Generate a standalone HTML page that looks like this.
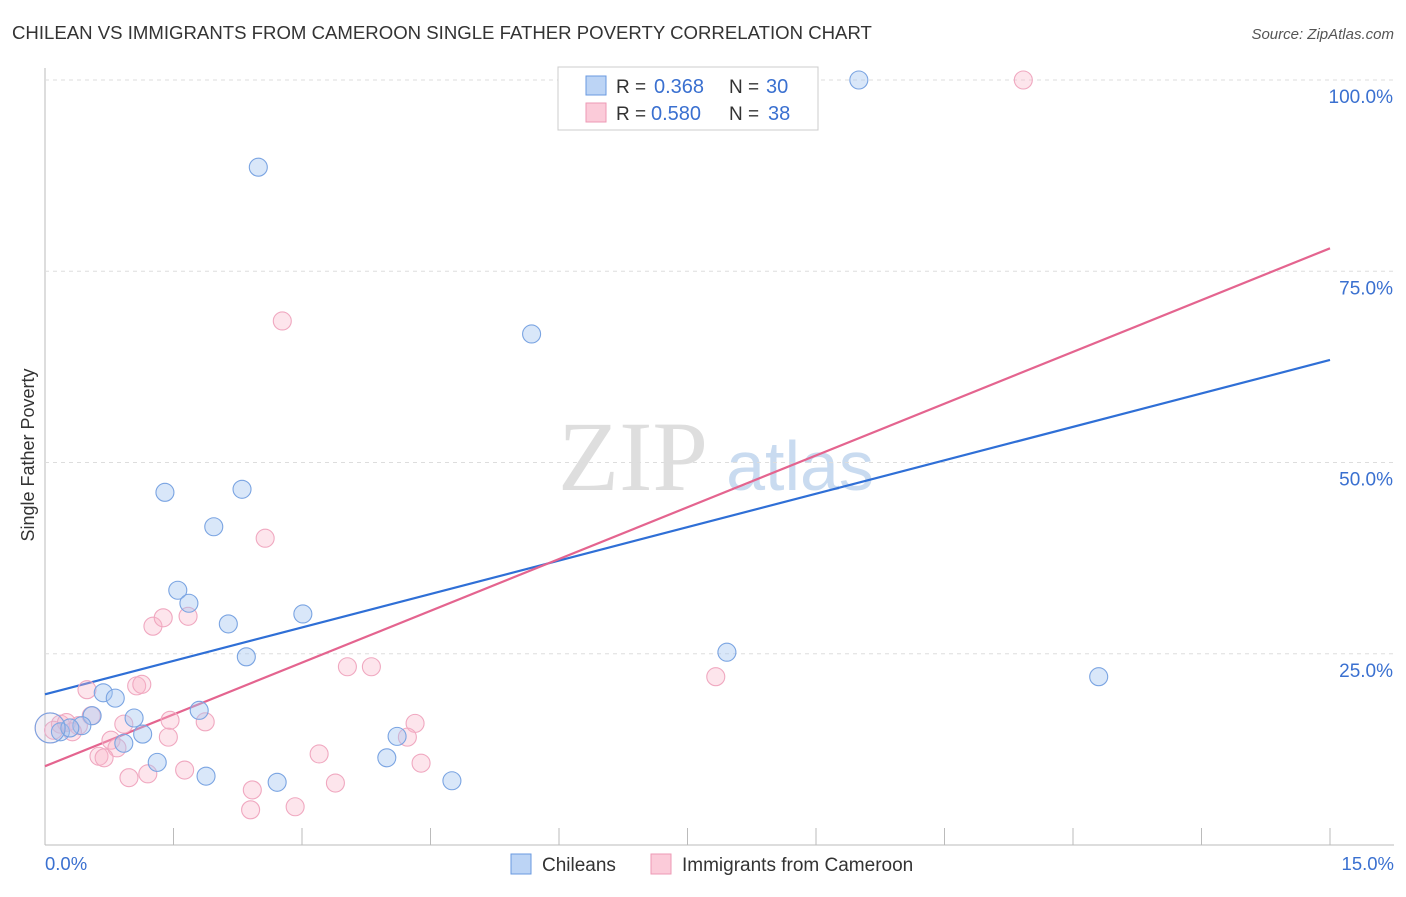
<!DOCTYPE html>
<html><head><meta charset="utf-8"><style>
body{margin:0;background:#fff;font-family:"Liberation Sans",sans-serif}
</style></head><body>
<svg id="chart" width="1406" height="892" font-family="Liberation Sans, sans-serif">
<text x="12" y="39" font-size="18.6" fill="#333">CHILEAN VS IMMIGRANTS FROM CAMEROON SINGLE FATHER POVERTY CORRELATION CHART</text>
<text x="1394" y="39" font-size="15" fill="#555" font-style="italic" text-anchor="end">Source: ZipAtlas.com</text>
<text x="34" y="455" font-size="18" fill="#333" transform="rotate(-90 34 455)" text-anchor="middle">Single Father Poverty</text>
<g><text x="633" y="490" font-size="100" fill="#dedede" style="font-family:'Liberation Serif',serif" text-anchor="middle">ZIP</text><text x="800" y="490" font-size="70" fill="#c9dbf0" text-anchor="middle">atlas</text></g>
<g id="grid"></g><g id="lines"></g><g id="pts"></g>
<g>
<rect x="558" y="67" width="260" height="63" fill="#fff" stroke="#ccc"/>
<rect x="586" y="76" width="20" height="19" fill="#bcd4f5" stroke="#6a9ae0"/>
<rect x="586" y="103" width="20" height="19" fill="#fbcbd9" stroke="#ee9ab5"/>
<text x="616" y="93" font-size="19" fill="#333">R =</text><text x="654" y="93" font-size="20" fill="#3a70d0">0.368</text>
<text x="729" y="93" font-size="19" fill="#333">N =</text><text x="766" y="93" font-size="20" fill="#3a70d0">30</text>
<text x="616" y="120" font-size="19" fill="#333">R =</text><text x="651" y="120" font-size="20" fill="#3a70d0">0.580</text>
<text x="729" y="120" font-size="19" fill="#333">N =</text><text x="768" y="120" font-size="20" fill="#3a70d0">38</text>
</g>
<g>
<rect x="511" y="854" width="20" height="20" fill="#bcd4f5" stroke="#6a9ae0"/>
<text x="542" y="871" font-size="19" fill="#333">Chileans</text>
<rect x="651" y="854" width="20" height="20" fill="#fbcbd9" stroke="#ee9ab5"/>
<text x="682" y="871" font-size="19" fill="#333">Immigrants from Cameroon</text>
</g>
<text x="45" y="870" font-size="18.5" fill="#3a70d0">0.0%</text>
<text x="1394" y="870" font-size="18.5" fill="#3a70d0" text-anchor="end">15.0%</text>
</svg>
<script>
const yTicks=[25,50,75,100];
const yTickLabels=["25.0%","50.0%","75.0%","100.0%"];
const blueX=[9.50,2.49,5.68,1.40,2.30,1.97,1.55,1.68,2.14,3.01,2.35,7.96,12.30,0.68,0.82,0.55,1.04,1.80,1.14,0.92,0.43,1.31,1.88,2.71,3.99,4.11,4.75,0.18,0.29,0.06];
const blueY=[100,88.6,66.8,46.1,46.5,41.6,33.3,31.6,28.9,30.2,24.6,25.2,22.0,19.9,19.2,16.9,16.6,17.6,14.5,13.3,15.6,10.8,9.0,8.2,11.4,14.2,8.4,14.8,15.3,15.3];
const pinkX=[11.42,2.77,2.57,1.26,1.38,1.67,0.49,1.07,1.13,3.53,3.81,7.83,0.54,1.46,1.87,0.92,4.32,0.39,0.18,1.44,0.77,4.23,0.84,0.63,0.69,3.20,1.63,4.39,0.98,1.20,2.42,3.39,2.40,2.92,0.06,0.25,0.32,0.10];
const pinkY=[100,68.5,40.1,28.6,29.7,29.9,20.3,20.8,21.0,23.3,23.3,22.0,16.9,16.3,16.1,15.8,15.9,15.6,15.8,14.1,13.7,14.1,12.7,11.6,11.4,11.9,9.8,10.7,8.8,9.3,7.2,8.1,4.6,5.0,15.3,16.0,14.8,15.0];
const blueTrend=[19.7,63.4];
const pinkTrend=[10.3,78.0];
const X=v=>45+v/15*1285, Y=v=>845-v/100*765;
const NS="http://www.w3.org/2000/svg";
function mk(tag,attrs,parent){const e=document.createElementNS(NS,tag);for(const k in attrs)e.setAttribute(k,attrs[k]);document.getElementById(parent).appendChild(e);return e;}
let ax=mk('line',{x1:45,y1:68,x2:45,y2:845,stroke:'#bbb'},'grid');


let bx=mk('line',{x1:45,y1:845,x2:1394,y2:845,stroke:'#bbb'},'grid');


for(let i=1;i<=10;i++){const t=mk('line',{x1:X(i*1.5),y1:828,x2:X(i*1.5),y2:845,stroke:'#bbb'},'grid');

}
yTicks.forEach((v,i)=>{const g=mk('line',{x1:45,y1:Y(v),x2:1394,y2:Y(v),stroke:'#ddd','stroke-dasharray':'4,4'},'grid');


const t=mk('text',{x:1393,y:Y(v)+23,'font-size':19,fill:'#3a70d0','text-anchor':'end'},'grid');t.textContent=yTickLabels[i];

});
function dots(xs,ys,fill,stroke,name){xs.forEach((x,i)=>{const big=(x<0.1&&Math.abs(ys[i]-15.3)<0.1);const c=mk('circle',{cx:X(x),cy:Y(ys[i]),r:big?15:9,fill:fill,stroke:stroke,'stroke-width':1.1,'fill-opacity':big?0.3:1},'pts');

});}
dots(pinkX,pinkY,'rgba(248,180,200,0.35)','#f0a8c0','point-cameroon');
dots(blueX,blueY,'rgba(165,198,240,0.42)','#7aa4e2','point-chilean');
const bl=mk('line',{x1:X(0),y1:Y(blueTrend[0]),x2:X(15),y2:Y(blueTrend[1]),stroke:'#2f6fd6','stroke-width':2.2},'lines');


const pl=mk('line',{x1:X(0),y1:Y(pinkTrend[0]),x2:X(15),y2:Y(pinkTrend[1]),stroke:'#e4648f','stroke-width':2.2},'lines');


</script>
</body></html>
